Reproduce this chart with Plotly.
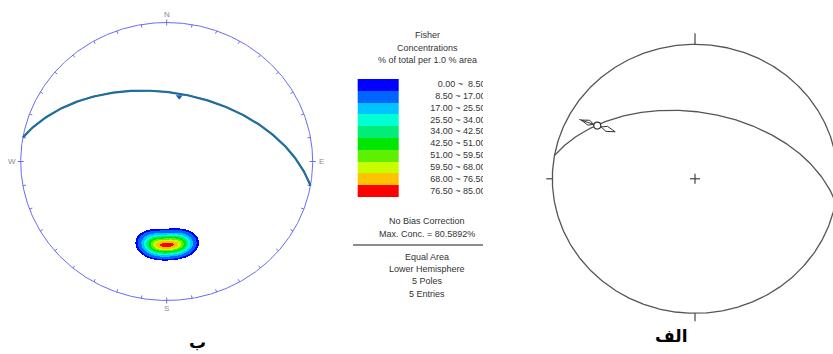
import numpy as np
import plotly.graph_objects as go

# ---------------- data ----------------
PLANE_DIP_DIRECTION = 10      # deg (strike 280 / 100)
PLANE_DIP = 49                # deg
POLE_TRENDS = [170, 175, 180, 185, 190]
POLE_PLUNGES = [40, 40.5, 40, 39.5, 40]
FISHER_K = 175
MAX_CONC = 80.5892
MIN_SHOWN = 5.0
CONTOUR_LEVELS = [0, 8.5, 17, 25.5, 34, 42.5, 51, 59.5, 68, 76.5, 85]
LEVEL_COLORS = ["#0000ff", "#0064ff", "#00c4ff", "#00ffd2", "#00ee78",
                "#00e600", "#5ef000", "#c8ff00", "#ffc400", "#ff0000"]
LINEATION_TREND = 300
LINEATION_PLUNGE = 22
CARDINALS = ["N", "E", "S", "W"]
CARDINAL_AZ = [0, 90, 180, 270]
TITLE_LINES = ["Fisher", "Concentrations", "% of total per 1.0 % area"]
INFO_LINES_1 = ["No Bias Correction", "Max. Conc. = 80.5892%"]
INFO_LINES_2 = ["Equal Area", "Lower Hemisphere", "5 Poles", "5 Entries"]
PANEL_LABELS = ["ب", "الف"]

# ---------------- layout geometry (pixels) ----------------
W, H = 833, 354
L_CX, L_CY, L_RX, L_RY = 166.7, 161.5, 146.0, 139.0
R_CX, R_CY, R_RX, R_RY = 695.0, 178.8, 142.7, 134.5
FONT = "Liberation Sans, Arial, sans-serif"


def proj(trend, plunge):
    t = np.radians(np.asarray(trend, float))
    p = np.radians(np.asarray(plunge, float))
    r = np.sqrt(2) * np.sin((np.pi / 2 - p) / 2)
    return r * np.sin(t), r * np.cos(t)


def to_px(u, v, cx, cy, rx, ry):
    return cx + rx * np.asarray(u), cy - ry * np.asarray(v)


def plane_curve(dipdir, dip, n=241):
    strike = dipdir - 90
    beta = np.linspace(0, 180, n)
    plunge = np.degrees(np.arctan(np.tan(np.radians(dip)) * np.sin(np.radians(beta))))
    return proj(strike + beta, plunge)


fig = go.Figure()
LBLUE = "#6b6bf2"
GREY = "#555555"

# ================= LEFT NET =================
az = np.linspace(0, 360, 721)
u, v = np.sin(np.radians(az)), np.cos(np.radians(az))
x, y = to_px(u, v, L_CX, L_CY, L_RX, L_RY)
fig.add_trace(go.Scatter(x=x, y=y, mode="lines", line=dict(color=LBLUE, width=1),
                         hoverinfo="skip", showlegend=False))
tx, ty = [], []
for a in range(0, 360, 10):
    s, c = np.sin(np.radians(a)), np.cos(np.radians(a))
    out = 3 if a % 90 == 0 else 0
    tx += [L_CX + (L_RX - 3) * s, L_CX + (L_RX + out) * s, None]
    ty += [L_CY - (L_RY - 3) * c, L_CY - (L_RY + out) * c, None]
fig.add_trace(go.Scatter(x=tx, y=ty, mode="lines", line=dict(color=LBLUE, width=1),
                         hoverinfo="skip", showlegend=False))
for lab, a in zip(CARDINALS, CARDINAL_AZ):
    s, c = np.sin(np.radians(a)), np.cos(np.radians(a))
    fig.add_annotation(x=L_CX + (L_RX + 9) * s, y=L_CY - (L_RY + 8) * c, text=lab,
                       showarrow=False, font=dict(family=FONT, size=8, color="#8a8a8a"),
                       xref="x", yref="y")

# density (Fisher sum of poles)
pt = np.radians(POLE_TRENDS)
pp = np.radians(POLE_PLUNGES)
PV = np.stack([np.cos(pp) * np.cos(pt), np.cos(pp) * np.sin(pt), np.sin(pp)], axis=1)
gx = np.arange(120, 215, 1.0)
gy = np.arange(215, 272, 1.0)
GX, GY = np.meshgrid(gx, gy)
U = (GX - L_CX) / L_RX
V = (L_CY - GY) / L_RY
R = np.clip(np.hypot(U, V), 0, 1)
colat = 2 * np.arcsin(R / np.sqrt(2))
plg = np.pi / 2 - colat
trd = np.arctan2(U, V)
G = np.stack([np.cos(plg) * np.cos(trd), np.cos(plg) * np.sin(trd), np.sin(plg)], axis=-1)
D = np.zeros_like(U)
for pv in PV:
    D += np.exp(FISHER_K * (G @ pv - 1))
D = D / D.max() * MAX_CONC
D[D < MIN_SHOWN] = np.nan

cs = []
n = len(LEVEL_COLORS)
for i, col in enumerate(LEVEL_COLORS):
    cs.append([i / n, col])
    cs.append([(i + 1) / n, col])
fig.add_trace(go.Heatmap(x=gx, y=gy, z=D, zmin=CONTOUR_LEVELS[0], zmax=CONTOUR_LEVELS[-1],
                         colorscale=cs, showscale=False, zsmooth=False, hoverinfo="skip"))

# plane on left net
pu, pv_ = plane_curve(PLANE_DIP_DIRECTION, PLANE_DIP)
x, y = to_px(pu, pv_, L_CX, L_CY, L_RX, L_RY)
fig.add_trace(go.Scatter(x=x, y=y, mode="lines", line=dict(color="#2a5ad0", width=2.2),
                         hoverinfo="skip", showlegend=False))
fig.add_trace(go.Scatter(x=x, y=y, mode="lines", line=dict(color="#1b7a7a", width=1.3),
                         hoverinfo="skip", showlegend=False))
du, dv = proj(PLANE_DIP_DIRECTION, PLANE_DIP)
x, y = to_px([du], [dv], L_CX, L_CY, L_RX, L_RY)
fig.add_trace(go.Scatter(x=x, y=y + 3, mode="markers",
                         marker=dict(symbol="triangle-down", size=6, color="#2456d8"),
                         hoverinfo="skip", showlegend=False))

# ================= LEGEND / INFO =================
LX0, LX1, LY0, LY1 = 357.7, 399.0, 79.0, 197.3
TXT_X = 427
fig.add_trace(go.Heatmap(x=[LX0, LX1], y=np.linspace(LY0, LY1, n + 1),
                         z=[[(CONTOUR_LEVELS[i] + CONTOUR_LEVELS[i + 1]) / 2] for i in range(n)],
                         zmin=CONTOUR_LEVELS[0], zmax=CONTOUR_LEVELS[-1], colorscale=cs,
                         showscale=False, zsmooth=False, hoverinfo="skip"))
labels = ["%.2f ~ %5.2f" % (CONTOUR_LEVELS[i], CONTOUR_LEVELS[i + 1]) for i in range(n)]
row_h = (LY1 - LY0) / n
fig.add_trace(go.Scatter(x=[485.5] * n, y=[LY0 + row_h * (i + 0.5) for i in range(n)],
                         text=labels, mode="text", textposition="middle left",
                         textfont=dict(family=FONT, size=9, color="#333333"),
                         xaxis="x2", yaxis="y", hoverinfo="skip", showlegend=False,
                         cliponaxis=True))
for i, t in enumerate(TITLE_LINES):
    fig.add_annotation(x=TXT_X, y=35 + 12.5 * i, text=t, showarrow=False,
                       font=dict(family=FONT, size=9, color="#333333"), xref="x", yref="y")
for i, t in enumerate(INFO_LINES_1):
    fig.add_annotation(x=TXT_X, y=221 + 12.5 * i, text=t, showarrow=False,
                       font=dict(family=FONT, size=9, color="#333333"), xref="x", yref="y")
for i, t in enumerate(INFO_LINES_2):
    fig.add_annotation(x=TXT_X, y=256.5 + 12.4 * i, text=t, showarrow=False,
                       font=dict(family=FONT, size=9, color="#333333"), xref="x", yref="y")
fig.add_shape(type="line", x0=353, x1=483, y0=245, y1=245, xref="x", yref="y",
              line=dict(color="#666666", width=1.5))

# ================= RIGHT NET =================
x, y = to_px(u, v, R_CX, R_CY, R_RX, R_RY)
fig.add_trace(go.Scatter(x=x, y=y, mode="lines", line=dict(color=GREY, width=1.3),
                         hoverinfo="skip", showlegend=False))
tick_len = [11, 6, 8, 6]
tx, ty = [], []
for a, tl in zip(CARDINAL_AZ, tick_len):
    s, c = np.sin(np.radians(a)), np.cos(np.radians(a))
    tx += [R_CX + R_RX * s, R_CX + (R_RX + tl) * s, None]
    ty += [R_CY - R_RY * c, R_CY - (R_RY + tl) * c, None]
tx += [R_CX - 5, R_CX + 5, None, R_CX, R_CX]
ty += [R_CY, R_CY, None, R_CY - 5, R_CY + 5]
fig.add_trace(go.Scatter(x=tx, y=ty, mode="lines", line=dict(color="#333333", width=1.1),
                         hoverinfo="skip", showlegend=False))
x, y = to_px(pu, pv_, R_CX, R_CY, R_RX, R_RY)
fig.add_trace(go.Scatter(x=x, y=y, mode="lines", line=dict(color=GREY, width=1.3),
                         hoverinfo="skip", showlegend=False))

# lineation with slip arrows
lu, lv = proj(LINEATION_TREND, LINEATION_PLUNGE)
px0, py0 = to_px(lu, lv, R_CX, R_CY, R_RX, R_RY)
ang = np.radians(19)
d = np.array([np.cos(ang), np.sin(ang)])
nrm = np.array([-d[1], d[0]])
p0 = np.array([float(px0), float(py0)])
kites_x, kites_y = [], []
for sgn, tip, mid in [(-1, 17, 9), (1, 19, 10)]:
    a0 = p0 + sgn * 4 * d
    m1 = p0 + sgn * mid * d + 2.6 * nrm
    m2 = p0 + sgn * mid * d - 2.6 * nrm
    tp = p0 + sgn * tip * d
    for q in [a0, m1, tp, m2, a0]:
        kites_x.append(q[0]); kites_y.append(q[1])
    kites_x.append(None); kites_y.append(None)
ln0, ln1 = p0 - 19 * d, p0 - 4 * d
kites_x += [ln0[0], ln1[0]]
kites_y += [ln0[1], ln1[1]]
fig.add_trace(go.Scatter(x=kites_x, y=kites_y, mode="lines", line=dict(color="#333333", width=1),
                         hoverinfo="skip", showlegend=False))
fig.add_trace(go.Scatter(x=[px0], y=[py0], mode="markers",
                         marker=dict(symbol="circle", size=7, color="white",
                                     line=dict(color="#333333", width=1.2)),
                         hoverinfo="skip", showlegend=False))

# panel labels
fig.add_annotation(x=197, y=342, text="<b>%s</b>" % PANEL_LABELS[0], showarrow=False,
                   font=dict(family="DejaVu Sans", size=17, color="black"), xref="x", yref="y")
fig.add_annotation(x=671, y=336, text="<b>%s</b>" % PANEL_LABELS[1], showarrow=False,
                   font=dict(family="DejaVu Sans", size=17, color="black"), xref="x", yref="y")

fig.update_layout(
    width=W, height=H, margin=dict(l=0, r=0, t=0, b=0),
    paper_bgcolor="white", plot_bgcolor="rgba(0,0,0,0)", showlegend=False,
    xaxis=dict(range=[0, W], visible=False, domain=[0, 1], fixedrange=True),
    yaxis=dict(range=[H, 0], visible=False, domain=[0, 1], fixedrange=True),
    xaxis2=dict(range=[0, 483], domain=[0, 483 / W], visible=False, anchor="y", fixedrange=True),
)
fig.write_html("out.html", config={"displayModeBar": False},
               post_script="document.body.style.margin='0';document.body.style.overflow='hidden';")
